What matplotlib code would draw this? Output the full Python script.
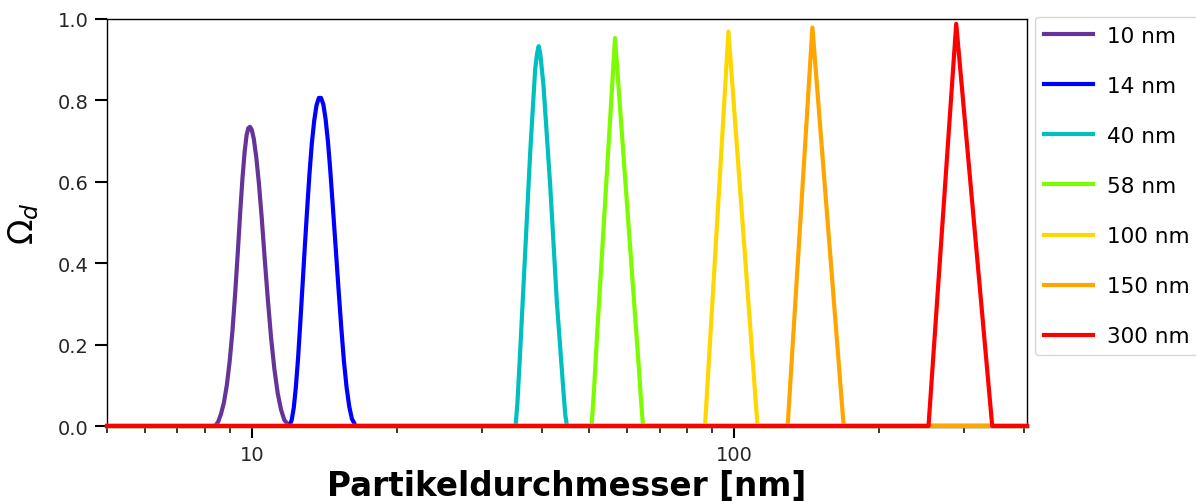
import numpy as np
import matplotlib
matplotlib.use("Agg")
import matplotlib.pyplot as plt
from matplotlib.ticker import FuncFormatter, NullFormatter, MultipleLocator

# Transfer functions of the DMA for the selected particle sizes
labels = ["10 nm", "14 nm", "40 nm", "58 nm", "100 nm", "150 nm", "300 nm"]
colors = ["rebeccapurple", "blue", "c", "lawngreen", "gold", "orange", "red"]

d_10 = [5, 8.38, 8.50, 8.62, 8.74, 8.86, 8.98, 9.10, 9.22, 9.33, 9.44, 9.55, 9.65, 9.74, 9.82,
        9.90, 9.98, 10.08, 10.2, 10.33, 10.47, 10.62, 10.78, 10.95, 11.12, 11.3, 11.48, 11.66,
        11.93, 405]
omega_10 = [0, 0, 0.01, 0.03, 0.058, 0.10, 0.158, 0.232, 0.325, 0.42, 0.52, 0.61, 0.675, 0.715,
            0.732, 0.735, 0.728, 0.705, 0.66, 0.595, 0.51, 0.41, 0.31, 0.215, 0.14, 0.08, 0.04,
            0.015, 0, 0]

d_14 = [5, 11.95, 12.08, 12.2, 12.32, 12.45, 12.58, 12.72, 12.86, 13.0, 13.15, 13.3, 13.45,
        13.6, 13.75, 13.9, 14.05, 14.2, 14.36, 14.52, 14.7, 14.9, 15.1, 15.3, 15.5, 15.7, 15.9,
        16.1, 16.4, 405]
omega_14 = [0, 0, 0.015, 0.045, 0.095, 0.165, 0.25, 0.345, 0.44, 0.53, 0.62, 0.695, 0.75,
            0.788, 0.806, 0.806, 0.79, 0.755, 0.70, 0.63, 0.54, 0.44, 0.34, 0.245, 0.16, 0.095,
            0.048, 0.018, 0, 0]

d_40 = [5, 35.2, 35.5, 35.97, 36.85, 37.74, 38.65, 39.0, 39.3, 39.6, 40.22, 41.53, 42.87,
        44.25, 44.65, 45.0, 405]
omega_40 = [0, 0, 0.055, 0.181, 0.427, 0.672, 0.877, 0.915, 0.933, 0.915, 0.836, 0.59, 0.304,
            0.083, 0.025, 0, 0]

d_58 = [5, 50.6, 51.2, 52.0, 53.6, 55.2, 56.6, 59.0, 61.5, 63.5, 64.2, 64.7, 405]
omega_58 = [0, 0, 0.09, 0.232, 0.49, 0.74, 0.953, 0.657, 0.362, 0.134, 0.05, 0, 0]

d_100 = [5, 87.0, 97.3, 111.8, 405]
omega_100 = [0, 0, 0.969, 0, 0]

d_150 = [5, 129.1, 145.3, 168.7, 405]
omega_150 = [0, 0, 0.979, 0, 0]

d_300 = [5, 253, 288.8, 343, 405]
omega_300 = [0, 0, 0.988, 0, 0]

diameters = [d_10, d_14, d_40, d_58, d_100, d_150, d_300]
omegas = [omega_10, omega_14, omega_40, omega_58, omega_100, omega_150, omega_300]

fig = plt.figure(figsize=(11.96, 5.02), dpi=100)
ax = fig.add_axes([0.0895, 0.1494, 0.7692, 0.8108])

for d, om, lab, col in zip(diameters, omegas, labels, colors):
    ax.plot(d, om, color=col, lw=3.0, label=lab, zorder=3, clip_on=False)

ax.set_xscale("log")
ax.set_xlim(5, 405)
ax.set_ylim(0, 1.0)
ax.xaxis.set_major_formatter(FuncFormatter(lambda v, p: "%g" % v))
ax.xaxis.set_minor_formatter(NullFormatter())
ax.yaxis.set_major_locator(MultipleLocator(0.2))
ax.yaxis.set_major_formatter(FuncFormatter(lambda v, p: "%.1f" % v))

ax.tick_params(which="major", length=8.5, width=1.5, labelsize=14, pad=5, labelcolor="#262626")
ax.tick_params(which="minor", length=5, width=1.1)
for sp in ax.spines.values():
    sp.set_linewidth(1.0)

ax.set_xlabel("Partikeldurchmesser [nm]", fontsize=23.5, fontweight="bold", labelpad=4)
ax.set_ylabel(r"$\Omega_d$", fontsize=24, labelpad=12)

ax.legend(loc="upper left", bbox_to_anchor=(1.0087, 1.005), fontsize=15.5,
          handlelength=2.3, handletextpad=0.65, labelspacing=1.4, borderaxespad=0)

fig.savefig("out.png", dpi=100)
